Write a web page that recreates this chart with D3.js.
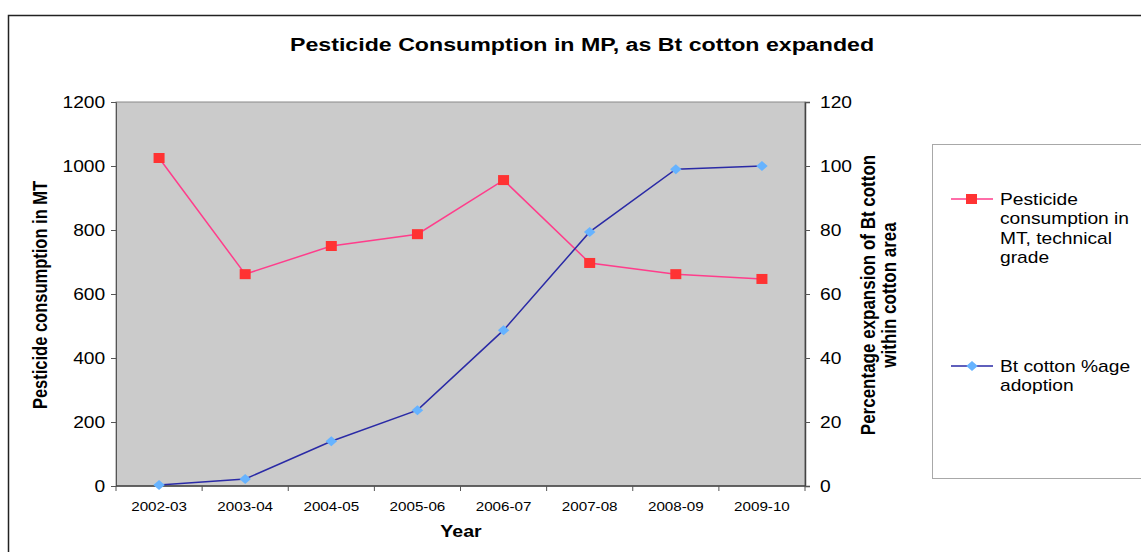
<!DOCTYPE html>
<html>
<head>
<meta charset="utf-8">
<script src="https://cdn.jsdelivr.net/npm/d3@7/dist/d3.min.js"></script>
<style>
  html, body { margin: 0; padding: 0; background: #fff; }
  svg { display: block; font-family: "Liberation Sans", Arial, sans-serif; }
</style>
</head>
<body>
<svg id="chart" width="1141" height="552"></svg>
<script>
// Seasons on the category axis
const years = ["2002-03", "2003-04", "2004-05", "2005-06", "2006-07", "2007-08", "2008-09", "2009-10"];
// Pesticide consumption, MT technical grade (left axis)
const pesticide = [1025, 662, 750, 787, 956, 697, 662, 647];
// Bt cotton share of cotton area, % (right axis)
const btAdoption = [0.3, 2.2, 14, 23.7, 48.7, 79.4, 99, 100];
// Axis ticks
const leftTicks = [0, 200, 400, 600, 800, 1000, 1200];
const rightTicks = [0, 20, 40, 60, 80, 100, 120];

// horizontal text widening used throughout the chart
const SX = 1.2;

const svg = d3.select("#chart");
const plot = { left: 116, right: 805, top: 102, bottom: 486 };

// writes a horizontally widened text anchored at (x, y)
function label(parent, x, y, str, opts) {
  const g = parent.append("g").attr("transform", `translate(${x},${y}) scale(${opts.sx || SX},1)`);
  const t = g.append("text")
    .attr("text-anchor", opts.anchor || "start")
    .attr("font-size", opts.size)
    .attr("font-weight", opts.bold ? "bold" : "normal")
    .attr("fill", "#000");
  const lines = Array.isArray(str) ? str : [str];
  lines.forEach((s, i) => t.append("tspan").attr("x", 0).attr("dy", i ? (opts.lh || 0) : 0).text(s));
  return t;
}

// outer frame
svg.append("rect")
  .attr("x", 8.5).attr("y", 15.5)
  .attr("width", 1160).attr("height", 600)
  .attr("fill", "#fff").attr("stroke", "#222").attr("stroke-width", 1.5);

const x = d3.scaleBand().domain(years).range([plot.left, plot.right]).padding(0);
const yL = d3.scaleLinear().domain([0, 1200]).range([plot.bottom, plot.top]);
const yR = d3.scaleLinear().domain([0, 120]).range([plot.bottom, plot.top]);

// plot background
svg.append("rect")
  .attr("x", plot.left).attr("y", plot.top)
  .attr("width", plot.right - plot.left).attr("height", plot.bottom - plot.top)
  .attr("fill", "#cbcbcb").attr("stroke", "#8a8a8a").attr("stroke-width", 1);

// title
label(svg, 582, 51, "Pesticide Consumption in MP, as Bt cotton expanded",
  { anchor: "middle", size: 19, bold: true, sx: 1.22 });

// left axis
const gL = svg.append("g").attr("transform", `translate(${plot.left},0)`)
  .call(d3.axisLeft(yL).tickValues(leftTicks).tickFormat(d3.format("d")).tickSize(5).tickPadding(4));
gL.select(".domain").attr("stroke", "#555");
gL.selectAll(".tick line").attr("stroke", "#555");
gL.selectAll("text").attr("font-size", 16).attr("fill", "#000")
  .attr("font-family", "Liberation Sans, Arial, sans-serif")
  .attr("transform", `scale(${SX},1)`);

// right axis
const gR = svg.append("g").attr("transform", `translate(${plot.right},0)`)
  .call(d3.axisRight(yR).tickValues(rightTicks).tickSize(5).tickPadding(7.5));
gR.select(".domain").attr("stroke", "#444").attr("stroke-width", 1.5);
gR.selectAll(".tick line").attr("stroke", "#555");
gR.selectAll("text").attr("font-size", 16).attr("fill", "#000")
  .attr("font-family", "Liberation Sans, Arial, sans-serif")
  .attr("transform", `scale(${SX},1)`);

// bottom axis: ticks at category boundaries
const gB = svg.append("g").attr("transform", `translate(0,${plot.bottom})`);
gB.append("line").attr("x1", plot.left).attr("x2", plot.right)
  .attr("stroke", "#444").attr("stroke-width", 1.5);
d3.range(years.length + 1).forEach(i => {
  const bx = plot.left + i * x.bandwidth();
  gB.append("line").attr("x1", bx).attr("x2", bx).attr("y1", 0).attr("y2", 5)
    .attr("stroke", "#555");
});
years.forEach(d => label(gB, x(d) + x.bandwidth() / 2, 25, d, { anchor: "middle", size: 13, sx: 1.17 }));

// axis titles (rotated; glyphs widened across the page)
svg.append("text")
  .attr("transform", "translate(47,295) rotate(-90) scale(1,1.2)")
  .attr("text-anchor", "middle").attr("font-size", 16.5).attr("font-weight", "bold")
  .text("Pesticide consumption in MT");
const rt = svg.append("text")
  .attr("transform", "translate(875,295) rotate(-90) scale(1,1.2)")
  .attr("text-anchor", "middle").attr("font-size", 17).attr("font-weight", "bold");
rt.append("tspan").attr("x", 0).attr("dy", 0).text("Percentage expansion of Bt cotton");
rt.append("tspan").attr("x", 0).attr("dy", 17.5).text("within cotton area");

label(svg, 461, 537, "Year", { anchor: "middle", size: 17, bold: true, sx: 1.15 });

// series lines
const cx = d => x(d) + x.bandwidth() / 2;
const pinkLine = d3.line().x((d, i) => cx(years[i])).y(d => yL(d));
const blueLine = d3.line().x((d, i) => cx(years[i])).y(d => yR(d));

svg.append("path").datum(pesticide).attr("d", pinkLine)
  .attr("fill", "none").attr("stroke", "#ff3d8b").attr("stroke-width", 1.5);
svg.append("path").datum(btAdoption).attr("d", blueLine)
  .attr("fill", "none").attr("stroke", "#2a2aa6").attr("stroke-width", 1.5);

svg.selectAll("rect.pm").data(pesticide).enter().append("rect")
  .attr("class", "pm")
  .attr("x", (d, i) => cx(years[i]) - 5.5).attr("y", d => yL(d) - 5)
  .attr("width", 11).attr("height", 10).attr("fill", "#ff3333");

const diamond = d3.symbol().type(d3.symbolSquare).size(50);
function diamondAt(sel, px, py) {
  return sel.attr("d", diamond)
    .attr("transform", `translate(${px},${py}) scale(1.15,1) rotate(45)`)
    .attr("fill", "#66b3ff");
}
svg.selectAll("path.bm").data(btAdoption).enter().append("path")
  .attr("class", "bm")
  .each(function (d, i) { diamondAt(d3.select(this), cx(years[i]), yR(d)); });

// legend
svg.append("rect")
  .attr("x", 932.5).attr("y", 144.5).attr("width", 230).attr("height", 334)
  .attr("fill", "#fff").attr("stroke", "#a8a8a8").attr("stroke-width", 1);

const lg1 = svg.append("g");
lg1.append("line").attr("x1", 951).attr("x2", 993).attr("y1", 199).attr("y2", 199)
  .attr("stroke", "#ff3d8b").attr("stroke-width", 1.5);
lg1.append("rect").attr("x", 966).attr("y", 194).attr("width", 11).attr("height", 10)
  .attr("fill", "#ff3333");
label(lg1, 1000, 205, ["Pesticide", "consumption in", "MT, technical", "grade"],
  { size: 16, lh: 19.5, sx: 1.2 });

const lg2 = svg.append("g");
lg2.append("line").attr("x1", 951).attr("x2", 993).attr("y1", 366).attr("y2", 366)
  .attr("stroke", "#2a2aa6").attr("stroke-width", 1.5);
diamondAt(lg2.append("path"), 972, 366);
label(lg2, 1000, 372, ["Bt cotton %age", "adoption"], { size: 16, lh: 19.5, sx: 1.2 });
</script>
</body>
</html>
